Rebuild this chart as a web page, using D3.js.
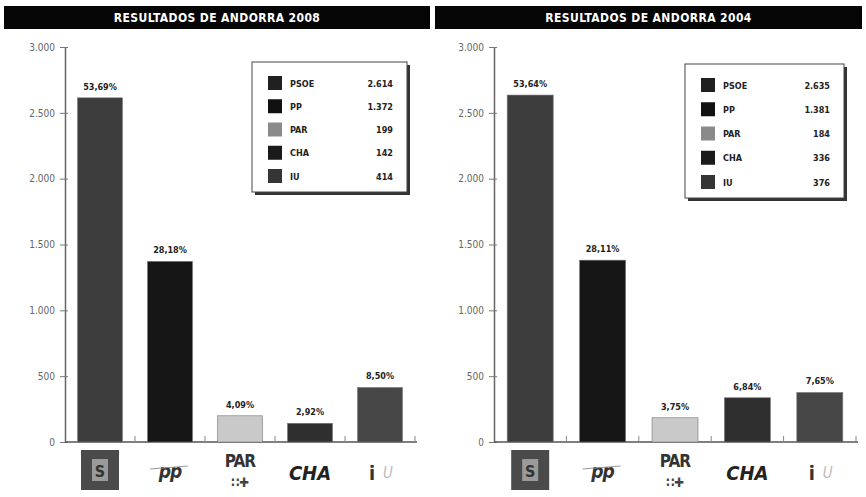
<!DOCTYPE html>
<html>
<head>
<meta charset="utf-8">
<script src="https://cdn.jsdelivr.net/npm/d3@7"></script>
<style>
  body { margin: 0; background: #fff; }
  svg text { font-family: "DejaVu Sans Condensed", "Liberation Sans Narrow", sans-serif; }
</style>
</head>
<body>
<svg id="chart" width="866" height="497"></svg>
<script>
const parties = ["PSOE", "PP", "PAR", "CHA", "IU"];
const votes2008 = [2614, 1372, 199, 142, 414];
const pct2008 = ["53,69%", "28,18%", "4,09%", "2,92%", "8,50%"];
const votes2004 = [2635, 1381, 184, 336, 376];
const pct2004 = ["53,64%", "28,11%", "3,75%", "6,84%", "7,65%"];
const yTicks = [0, 500, 1000, 1500, 2000, 2500, 3000];

const barColors = ["#3d3d3d", "#161616", "#c9c9c9", "#2f2f2f", "#464646"];
const swatchColors = ["#202020", "#111", "#8a8a8a", "#1a1a1a", "#353535"];

const svg = d3.select("#chart");
const locale = d3.formatLocale({ decimal: ",", thousands: ".", grouping: [3], currency: ["", ""] });
const fmt = locale.format(",d");

function drawPanel(cfg) {
  const g = svg.append("g");

  // title bar
  g.append("rect")
    .attr("x", cfg.titleX0).attr("y", 6)
    .attr("width", cfg.titleX1 - cfg.titleX0).attr("height", 23)
    .attr("fill", "#050505");
  g.append("text")
    .attr("x", (cfg.titleX0 + cfg.titleX1) / 2).attr("y", 22)
    .attr("text-anchor", "middle")
    .attr("fill", "#fff").attr("font-weight", "bold").attr("font-size", 12)
    .attr("letter-spacing", 0.4)
    .text(cfg.title);

  const y = d3.scaleLinear().domain([0, 3000]).range([442, 47]);
  const x = d3.scalePoint().domain(parties).range([cfg.x0, cfg.x1]).padding(0.5);

  // y axis
  const yAxis = g.append("g")
    .attr("transform", `translate(${cfg.x0}, 0)`)
    .call(d3.axisLeft(y).tickValues(yTicks).tickSize(4).tickSizeOuter(0).tickPadding(6)
      .tickFormat(fmt));
  yAxis.select(".domain").attr("stroke", "#666").attr("stroke-width", 1.5);
  yAxis.selectAll(".tick line").attr("stroke", "#777").attr("x2", -5).attr("x1", 3);
  yAxis.selectAll(".tick text")
    .attr("fill", "#666").attr("font-size", 10).attr("font-family", "DejaVu Sans Condensed, sans-serif");

  // baseline with small separators
  g.append("line")
    .attr("x1", cfg.x0).attr("x2", cfg.x1 + 2)
    .attr("y1", y(0)).attr("y2", y(0))
    .attr("stroke", "#555").attr("stroke-width", 1.5);
  g.selectAll(".sep")
    .data(parties)
    .join("line")
    .attr("x1", (d) => x(d) + x.step() / 2).attr("x2", (d) => x(d) + x.step() / 2)
    .attr("y1", y(0)).attr("y2", y(0) - 6)
    .attr("stroke", "#888");

  // bars
  g.selectAll(".bar")
    .data(cfg.votes)
    .join("rect")
    .attr("x", (d, i) => x(parties[i]) - cfg.barW / 2)
    .attr("y", (d) => y(d))
    .attr("width", cfg.barW)
    .attr("height", (d) => y(0) - y(d))
    .attr("fill", (d, i) => barColors[i])
    .attr("stroke", "#777").attr("stroke-width", 0.6);

  g.selectAll(".pct")
    .data(cfg.votes)
    .join("text")
    .attr("x", (d, i) => x(parties[i]))
    .attr("y", (d) => y(d) - 8)
    .attr("text-anchor", "middle")
    .attr("font-size", 9).attr("font-weight", "bold").attr("fill", "#222")
    .text((d, i) => cfg.pct[i]);

  // party logos (approximate)
  const logoY = 450;
  const lg = g.append("g");
  const px = x("PSOE");
  lg.append("rect").attr("x", px - 19).attr("y", logoY).attr("width", 38).attr("height", 40).attr("fill", "#4a4a4a");
  lg.append("rect").attr("x", px - 8).attr("y", logoY + 9).attr("width", 16).attr("height", 22).attr("fill", "#9a9a9a");
  lg.append("text").attr("x", px).attr("y", logoY + 27).attr("text-anchor", "middle")
    .attr("font-size", 16).attr("font-weight", "bold").attr("fill", "#333").text("S");

  lg.append("text").attr("x", x("PP")).attr("y", logoY + 28).attr("text-anchor", "middle")
    .attr("font-size", 19).attr("font-weight", "bold").attr("font-style", "italic")
    .attr("fill", "#333").attr("letter-spacing", -1).text("pp");
  lg.append("line").attr("x1", x("PP") - 20).attr("x2", x("PP") + 18)
    .attr("y1", logoY + 19).attr("y2", logoY + 16).attr("stroke", "#999").attr("stroke-width", 1);

  lg.append("text").attr("x", x("PAR")).attr("y", logoY + 17).attr("text-anchor", "middle")
    .attr("font-size", 17).attr("font-weight", "bold").attr("fill", "#333")
    .attr("letter-spacing", -1).text("PAR");
  lg.append("text").attr("x", x("PAR")).attr("y", logoY + 37).attr("text-anchor", "middle")
    .attr("font-size", 13).attr("font-weight", "bold").attr("fill", "#444").text("∷✚");

  lg.append("text").attr("x", x("CHA")).attr("y", logoY + 30).attr("text-anchor", "middle")
    .attr("font-size", 20).attr("font-weight", "bold").attr("font-style", "italic")
    .attr("fill", "#222").text("CHA");

  lg.append("text").attr("x", x("IU") - 8).attr("y", logoY + 30).attr("text-anchor", "middle")
    .attr("font-size", 20).attr("font-weight", "bold").attr("fill", "#333").text("i");
  lg.append("text").attr("x", x("IU") + 8).attr("y", logoY + 28).attr("text-anchor", "middle")
    .attr("font-size", 15).attr("font-style", "italic").attr("fill", "#bbb").text("U");

  // legend box
  const L = cfg.legend;
  const leg = g.append("g");
  leg.append("rect")
    .attr("x", L.x + 3).attr("y", L.y + 3).attr("width", L.w).attr("height", L.h)
    .attr("fill", "#333");
  leg.append("rect")
    .attr("x", L.x).attr("y", L.y).attr("width", L.w).attr("height", L.h)
    .attr("fill", "#fff").attr("stroke", "#444").attr("stroke-width", 1);

  const rowY = d3.scalePoint().domain(parties).range([L.y + 21, L.y + L.h - 16]);
  const rows = leg.selectAll(".row")
    .data(parties)
    .join("g")
    .attr("transform", (d) => `translate(0, ${rowY(d)})`);
  rows.append("rect")
    .attr("x", L.x + 16).attr("y", -7).attr("width", 14).attr("height", 14)
    .attr("fill", (d, i) => swatchColors[i]);
  rows.append("text")
    .attr("x", L.x + 38).attr("y", 3.5)
    .attr("font-size", 9).attr("font-weight", "bold").attr("fill", "#222")
    .text((d) => d);
  rows.append("text")
    .attr("x", L.x + L.w - 14).attr("y", 3.5)
    .attr("text-anchor", "end")
    .attr("font-size", 9).attr("font-weight", "bold").attr("fill", "#222")
    .text((d, i) => fmt(cfg.votes[i]));
}

drawPanel({
  title: "RESULTADOS DE ANDORRA 2008",
  titleX0: 4, titleX1: 430,
  x0: 65, x1: 415, barW: 45,
  votes: votes2008, pct: pct2008,
  legend: { x: 252, y: 62, w: 155, h: 130 },
});

drawPanel({
  title: "RESULTADOS DE ANDORRA 2004",
  titleX0: 435, titleX1: 862,
  x0: 494, x1: 856, barW: 46,
  votes: votes2004, pct: pct2004,
  legend: { x: 685, y: 64, w: 159, h: 134 },
});
</script>
</body>
</html>
